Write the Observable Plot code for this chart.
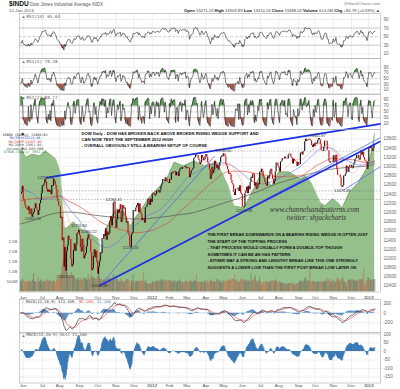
<!DOCTYPE html>
<html><head><meta charset="utf-8">
<script src="https://cdn.jsdelivr.net/npm/d3@7"></script>
<script src="https://cdn.jsdelivr.net/npm/@observablehq/plot@0.6"></script>
<style>
html,body{margin:0;padding:0;background:#fff;}
#chart{position:relative;width:400px;height:389px;overflow:hidden;background:#fff;}
#chart svg{position:absolute;left:0;}
</style></head><body><div id="chart"></div>
<script>
// ---------------- DATA ----------------
const monthKeys = ["2011-05","2011-06","2011-07","2011-08","2011-09","2011-10","2011-11","2011-12","2012-01","2012-02","2012-03","2012-04","2012-05","2012-06","2012-07","2012-08","2012-09","2012-10","2012-11","2012-12","2013-01"];
const monthLabels = ["","Jun","Jul","Aug","Sep","Oct","Nov","Dec","2012","Feb","Mar","Apr","May","Jun","Jul","Aug","Sep","Oct","Nov","Dec","2013"];

// daily closes per month
const c2011_05 = [12403,12442,12570];
const c2011_06 = [12290,12249,12151,12090,12071,12049,12124,11952,11953,12076,11897,11962,12004,12080,12190,12110,12050,11935,12044,12189,12261,12414];
const c2011_07 = [12583,12570,12626,12719,12657,12506,12447,12492,12437,12480,12385,12587,12572,12724,12681,12593,12501,12303,12240,12143];
const c2011_08 = [12132,11867,11896,11384,11445,10810,11240,10720,11143,11269,11483,11406,11410,10991,10818,10855,11177,11321,11150,11285,11539,11560,11614];
const c2011_09 = [11494,11240,11139,11415,11296,10992,11061,11106,11247,11433,11509,11401,11409,11125,10734,10771,11044,11191,11011,11154,10913];
const c2011_10 = [10655,10809,10940,11123,11103,11433,11416,11519,11478,11644,11397,11577,11505,11542,11809,11914,11707,11869,12209,12231,11955];
const c2011_11 = [11658,11836,12044,11983,12068,12170,11781,11894,12154,12079,12096,11906,11771,11796,11547,11494,11258,11232,11523,11556,12046];
const c2011_12 = [12020,12019,12098,12150,12196,11998,12184,12021,11955,11823,11869,11866,11766,12104,12108,12170,12294,12291,12151,12287,12218];
const c2012_01 = [12397,12418,12416,12360,12393,12462,12449,12471,12422,12482,12579,12624,12720,12709,12676,12757,12735,12660,12654,12633];
const c2012_02 = [12716,12705,12862,12845,12878,12884,12890,12801,12874,12878,12781,12904,12950,12966,12939,12985,12983,12982,13005,12952];
const c2012_03 = [12980,12978,12963,12759,12837,12908,12922,12960,13178,13194,13253,13233,13239,13170,13125,13046,13081,13242,13198,13126,13146,13212];
const c2012_04 = [13264,13200,13075,13060,12930,12716,12805,12987,12850,12921,13116,13033,12964,13029,12927,13002,13091,13205,13228,13214];
const c2012_05 = [13279,13269,13207,13038,13009,12932,12835,12855,12821,12695,12632,12599,12442,12369,12504,12503,12496,12530,12455,12581,12420,12393];
const c2012_06 = [12119,12101,12128,12415,12461,12554,12411,12574,12496,12652,12767,12742,12837,12824,12574,12641,12503,12535,12627,12602,12880];
const c2012_07 = [12871,12944,12897,12772,12736,12653,12605,12573,12777,12727,12806,12909,12943,12823,12721,12617,12676,12888,13076,13073,13009];
const c2012_08 = [12976,12879,13096,13118,13169,13176,13165,13208,13169,13172,13165,13250,13275,13272,13204,13173,13057,13158,13125,13103,13107,13001,13091];
const c2012_09 = [13036,13047,13292,13307,13254,13323,13333,13540,13593,13553,13565,13578,13597,13579,13559,13458,13414,13486,13437];
const c2012_10 = [13515,13482,13495,13575,13610,13584,13474,13345,13326,13329,13424,13552,13557,13549,13344,13346,13103,13077,13104,13107,13096];
const c2012_11 = [13233,13093,13112,13246,12933,12811,12815,12815,12756,12571,12542,12588,12796,12789,12837,13010,12967,12878,12985,13022,13026];
const c2012_12 = [12966,12952,13034,13074,13155,13170,13248,13245,13171,13135,13235,13351,13252,13312,13191,13139,13115,13096,12938,13104];
const c2013_01 = [13413,13391,13435,13384,13329,13390,13471,13488];

// daily volume per month (tens of millions)
const v2011_05 = [55,50,62];
const v2011_06 = [58,52,50,48,50,52,48,56,45,48,62,58,90,50,48,46,52,70,48,50,55,60];
const v2011_07 = [45,50,48,52,50,55,58,50,55,60,52,50,48,55,50,48,52,62,60,65];
const v2011_08 = [70,85,90,130,150,180,170,140,115,95,80,75,70,95,90,75,80,72,68,55,60,62,70];
const v2011_09 = [55,60,65,58,55,68,70,62,60,58,85,62,60,78,95,72,68,70,62,60,68];
const v2011_10 = [80,95,75,65,60,55,52,60,55,58,62,65,60,65,70,55,60,62,85,55,62];
const v2011_11 = [75,62,58,48,50,52,68,55,48,45,50,55,58,60,62,50,55,25,55,48,85];
const v2011_12 = [55,50,48,52,50,55,50,52,50,55,52,95,48,55,45,40,38,35,40,38,40];
const v2012_01 = [52,48,50,45,48,55,50,52,50,58,55,58,62,52,50,58,56,50,55,58];
const v2012_02 = [55,50,55,45,50,52,55,48,45,50,55,52,60,50,48,45,42,48,50,58];
const v2012_03 = [50,45,48,60,52,50,45,48,58,55,52,85,50,48,50,48,45,50,48,45,46,55];
const v2012_04 = [45,48,55,42,50,62,55,50,52,48,50,45,55,65,58,50,55,48,45,48];
const v2012_05 = [55,48,52,55,50,58,60,52,55,58,62,60,62,82,55,52,58,48,42,50,58,62];
const v2012_06 = [65,58,52,60,55,50,58,55,52,50,90,52,55,58,68,80,52,50,48,55,72];
const v2012_07 = [50,30,48,45,42,48,50,52,45,42,48,50,52,55,55,50,48,55,60,45,50];
const v2012_08 = [48,50,45,40,42,40,38,40,36,38,35,40,42,38,40,40,42,38,32,35,36,38,40];
const v2012_09 = [45,48,55,52,48,50,52,65,70,55,50,52,55,110,48,50,52,48,50];
const v2012_10 = [50,48,45,48,52,45,50,52,48,50,45,52,50,55,65,50,62,55,50,45,60];
const v2012_11 = [55,50,45,52,68,62,60,48,55,62,65,70,52,48,45,25,52,55,58,56,62];
const v2012_12 = [55,58,60,55,52,50,55,58,52,60,58,62,58,60,115,30,45,52,58,70];
const v2013_01 = [68,60,58,55,58,56,62,61];

// moving averages
const maDates = ["2011-05-26","2011-06-15","2011-07-01","2011-07-15","2011-08-01","2011-08-15","2011-09-01","2011-09-15","2011-10-03","2011-10-17","2011-11-01","2011-11-15","2011-12-01","2011-12-15","2012-01-03","2012-01-17","2012-02-01","2012-02-15","2012-03-01","2012-03-15","2012-04-02","2012-04-16","2012-05-01","2012-05-15","2012-06-01","2012-06-15","2012-07-02","2012-07-16","2012-08-01","2012-08-15","2012-09-04","2012-09-17","2012-10-01","2012-10-15","2012-11-01","2012-11-15","2012-12-03","2012-12-17","2013-01-02","2013-01-11"];
const ma50 = [12530,12420,12280,12290,12360,12100,11820,11550,11300,11230,11330,11500,11700,11860,11990,12080,12280,12520,12750,12870,13000,13050,13080,13020,12850,12700,12620,12660,12740,12840,13000,13140,13300,13420,13380,13200,13080,13030,13070,13130];
const ma100 = [12250,12300,12310,12330,12360,12250,12130,12000,11820,11720,11660,11610,11560,11570,11620,11700,11800,11980,12150,12330,12550,12700,12850,12900,12900,12870,12830,12800,12780,12790,12800,12880,13000,13100,13180,13160,13150,13110,13080,13107];
const ma200 = [11750,11820,11900,11960,12000,12010,11990,11960,11930,11910,11890,11870,11860,11860,11880,11900,11920,11950,11970,12010,12080,12140,12200,12260,12330,12400,12480,12560,12640,12700,12780,12830,12870,12910,12950,12970,12990,13000,13020,13061];

// $TRAN overlay (green area), read on the price axis
const ovDates = ["2011-05-26","2011-06-06","2011-06-15","2011-06-27","2011-07-07","2011-07-14","2011-07-25","2011-08-02","2011-08-08","2011-08-11","2011-08-23","2011-09-02","2011-09-14","2011-09-23","2011-10-03","2011-10-06","2011-10-14","2011-10-27","2011-11-03","2011-11-15","2011-11-25","2011-12-02","2011-12-15","2011-12-29","2012-01-13","2012-01-26","2012-02-09","2012-02-24","2012-03-13","2012-03-30","2012-04-20","2012-05-09","2012-05-18","2012-06-04","2012-06-20","2012-07-03","2012-07-20","2012-08-01","2012-08-17","2012-09-04","2012-09-14","2012-09-24","2012-10-02","2012-10-10","2012-10-18","2012-10-31","2012-11-09","2012-11-16","2012-11-27","2012-12-13","2012-12-31","2013-01-08","2013-01-11"];
const ovVals = [13380,13200,13270,13230,13330,13274,13165,12880,11700,11640,11794,11650,11576,11500,11424,10923,11600,11950,12077,12000,11700,11859,12100,12360,12550,12700,13100,13012,13121,13012,13100,12577,12142,12100,12512,12882,12577,12882,12882,12729,12795,12642,12425,12207,12142,12294,12207,12098,12425,12642,13012,13448,13730];

// price labels
const lblDates = ["2011-06-16","2011-07-07","2011-08-09","2011-08-31","2011-09-16","2011-10-04","2011-10-28","2011-11-25","2012-05-01","2012-06-04","2012-10-05","2012-11-16"];
const lblVals = [11862.53,12753.89,10604.07,11716.84,11580.22,10404.49,12284.31,11231.56,13338.66,12035.09,13661.87,12471.49];
const lblHigh = [false,true,false,true,true,false,true,false,true,false,true,false];

// trendlines
const thickFrom = ["2011-07-07","2011-10-04"], thickFromV = [12754,10404];
const thickTo = ["2013-01-21","2013-01-21"], thickToV = [13930,13552];
const thinFrom = ["2011-10-04","2012-06-04","2012-11-16"], thinFromV = [10404,12035,12471];
const thinTo = ["2012-04-16","2013-01-21","2013-01-21"], thinToV = [13230,13633,13000];
const levels = [12471,12284];
const levelHigh = [13338];

// axis ticks
const priceTicks = d3.range(10400, 13601, 200);
const volTicks = [2.5e9,2.0e9,1.5e9,1.0e9,0.5e9];
const volTickLabels = ["2.5B","2.0B","1.5B","1.0B","500M"];
const rsiTicks = [90,70,50,30,10];
const macdTicks = [200,0,-200];
const histTicks = [100,50,0,-50,-100,-150];

// texts
const noteTop = ["DOW Daily - DOW HAS BROKEN BACK ABOVE BROKEN RISING WEDGE SUPPORT AND","CAN NOW TEST THE SEPTEMBER 2012 HIGH","- OVERALL OBVIOUSLY STILL A BEARISH SETUP OF COURSE"];
const noteBottom = ["THE FIRST BREAK DOWNWARDS ON A BEARISH RISING WEDGE IS OFTEN JUST","THE START OF THE TOPPING PROCESS","- THAT PROCESS WOULD USUALLY FORM A DOUBLE-TOP THOUGH","SOMETIMES IT CAN BE AN H&S PATTERN","- EITHER WAY A STRONG AND LENGTHY BREAK LIKE THIS ONE STRONGLY","SUGGESTS A LOWER LOW THAN THE FIRST POST BREAK LOW LATER ON"];
const watermark = ["www.channelsandpatterns.com","twitter: shjackcharts"];
const legendLines = ["$INDU (Daily) 13488.02","MA(50) 13214.46","MA(100) 13107.46","MA(200) 13061.04","Volume 614,049,600","$TRAN (Daily) 5651.29"];

// ---------------- BUILD ----------------
const closesByMonth = [c2011_05,c2011_06,c2011_07,c2011_08,c2011_09,c2011_10,c2011_11,c2011_12,c2012_01,c2012_02,c2012_03,c2012_04,c2012_05,c2012_06,c2012_07,c2012_08,c2012_09,c2012_10,c2012_11,c2012_12,c2013_01];
const volsByMonth = [v2011_05,v2011_06,v2011_07,v2011_08,v2011_09,v2011_10,v2011_11,v2011_12,v2012_01,v2012_02,v2012_03,v2012_04,v2012_05,v2012_06,v2012_07,v2012_08,v2012_09,v2012_10,v2012_11,v2012_12,v2013_01];
const closes = closesByMonth.flat();
const vols = volsByMonth.flat().map(v => v * 1e7);
const monthStart = []; {let a = 0; closesByMonth.forEach(m => {monthStart.push(a); a += m.length;});}
function idxOf(s) {
  const m = monthKeys.indexOf(s.slice(0,7)), day = +s.slice(8,10);
  if (m === 0) return Math.max(0, day - 26) * 0.6;
  const y = +s.slice(0,4), mo = +s.slice(5,7);
  const dim = new Date(y, mo, 0).getDate();
  const cnt = m === monthKeys.length - 1 ? 21 : closesByMonth[m].length;
  return monthStart[m] + (day - 1) / dim * cnt;
}
const bars = closes.map((c, i) => ({i, c, p: i ? closes[i-1] : c, v: vols[i], up: i ? c >= closes[i-1] : true}));
// Wilder RSI, seeded with the average gain/loss of the first n changes
function rsi(arr, n) {
  let sg = 0, sl = 0;
  for (let i = 1; i <= n; i++) { const ch = arr[i] - arr[i-1]; sg += Math.max(ch, 0); sl += Math.max(-ch, 0); }
  let ag = sg / n, al = sl / n; const out = [];
  for (let i = 1; i < arr.length; i++) {
    const ch = arr[i] - arr[i-1];
    ag = (ag * (n - 1) + Math.max(ch, 0)) / n; al = (al * (n - 1) + Math.max(-ch, 0)) / n;
    out[i] = al === 0 ? 100 : 100 - 100 / (1 + ag / al);
  }
  out[0] = out[1];
  return out.map((r, i) => ({i, r}));
}
function ema(arr, n) { const k = 2 / (n + 1); let e = arr[0]; return arr.map(v => (e = e + k * (v - e))); }
const e12 = ema(closes, 12), e26 = ema(closes, 26);
const macdV = closes.map((c, i) => e12[i] - e26[i]);
const sig = ema(macdV, 9);
const macd = macdV.map((m, i) => ({i, m, s: sig[i], h: m - sig[i]}));
const maRows = maDates.map((d, k) => ({i: idxOf(d), a: ma50[k], b: ma100[k], c: ma200[k]}));
const ov = ovDates.map((d, k) => ({i: idxOf(d), v: ovVals[k]}));
const lbl = lblDates.map((d, k) => ({i: idxOf(d), v: lblVals[k], t: lblVals[k].toFixed(2), hi: lblHigh[k]}));
const thick = thickFrom.map((d, k) => ({x1: idxOf(d), y1: thickFromV[k], x2: idxOf(thickTo[k]), y2: thickToV[k]}));
const thin = thinFrom.map((d, k) => ({x1: idxOf(d), y1: thinFromV[k], x2: idxOf(thinTo[k]), y2: thinToV[k]}));
const monthTicks = monthStart.map((s, k) => ({i: s, t: monthLabels[k], bold: monthLabels[k].length === 4})).slice(1);

// ---------------- DRAW ----------------
const SANS = "'Liberation Sans', Arial, sans-serif";
const MONO = "'DejaVu Sans Mono', monospace";
const chart = document.getElementById("chart");
const X = {type: "linear", domain: [-1.27, 415.5], range: [19, 380], axis: null};
function base(h) {
  return {width: 400, height: h, marginLeft: 19, marginRight: 20, marginTop: 0, marginBottom: 0,
    style: {background: "transparent", overflow: "visible", fontFamily: SANS}};
}
function place(svg, top) { svg.style.position = "absolute"; svg.style.left = "0px"; svg.style.top = top + "px"; chart.appendChild(svg); return svg; }
const grid = Plot.ruleX(monthTicks, {x: "i", stroke: "#e4e4e4", strokeWidth: 0.6});
const rightTicks = (ticks, fmt) => Plot.text(ticks, {y: d => d, text: fmt || (d => String(d)), frameAnchor: "right", dx: 3, textAnchor: "start", fontSize: 4.6, fill: "#666"});

// header
const hdr = d3.select(chart).append("svg").attr("width", 400).attr("height", 13).style("top", "0px").style("font-family", SANS);
hdr.append("text").attr("x", 9).attr("y", 6).attr("font-size", 6.6).attr("font-weight", "bold").attr("fill", "#111").text("$INDU");
hdr.append("text").attr("x", 30).attr("y", 5.6).attr("font-size", 4.6).attr("fill", "#555").text("Dow Jones Industrial Average INDX");
hdr.append("text").attr("x", 9).attr("y", 11.5).attr("font-size", 4.4).attr("fill", "#555").text("12-Jan-2013");
hdr.append("text").attr("x", 380).attr("y", 5).attr("font-size", 4.2).attr("fill", "#777").attr("text-anchor", "end").text("@StockCharts.com");
const ohlc = hdr.append("text").attr("x", 380).attr("y", 11.5).attr("font-size", 4.2).attr("fill", "#444").attr("text-anchor", "end");
[["Open ", "13471.23 "], ["High ", "13503.89 "], ["Low ", "13410.24 "], ["Close ", "13488.02 "], ["Volume ", "614.0M "], ["Chg ", "+84.79 (+0.63%) \u25B2"]].forEach(([k, v]) => {
  ohlc.append("tspan").attr("font-weight", "bold").attr("fill", "#111").text(k);
  ohlc.append("tspan").text(v);
});

// RSI panels
function rsiPanel(data, top, bottom, y0, y100, name) {
  return place(Plot.plot({...base(bottom - top), x: X, y: {domain: [0, 100], range: [y0 - top, y100 - top], axis: null},
    marks: [
      grid,
      Plot.ruleY([90, 10], {stroke: "#e4e4e4", strokeWidth: 0.6}),
      Plot.ruleY([70, 30], {stroke: "#a0a0a0", strokeWidth: 0.6}),
      Plot.ruleY([50], {stroke: "#a0a0a0", strokeWidth: 0.5, strokeDasharray: "3,1.5"}),
      Plot.areaY(data, {x: "i", y1: 70, y2: d => Math.max(d.r, 70), fill: "#5f9a57"}),
      Plot.areaY(data, {x: "i", y1: 30, y2: d => Math.min(d.r, 30), fill: "#a05a4e"}),
      Plot.line(data, {x: "i", y: "r", stroke: "#222", strokeWidth: 0.6}),
      rightTicks(rsiTicks),
      Plot.text(["\u25B2"], {frameAnchor: "top-left", dx: 2, dy: 1.2, lineAnchor: "top", fontSize: 4, fill: "#3a8a3a"}),
      Plot.text([name], {frameAnchor: "top-left", dx: 7, dy: 1, lineAnchor: "top", fontSize: 4.3, fill: "#555", fontFamily: MONO}),
      Plot.frame({stroke: "#aaa", strokeWidth: 0.6})
    ]}), top);
}
rsiPanel(rsi(closes, 14), 13, 58, 57.6, 14.7, "RSI(14) 65.63");
rsiPanel(rsi(closes, 5), 58, 93.5, 92.1, 63.9, "RSI(5) 70.28");
rsiPanel(rsi(closes, 2), 93.5, 128.5, 125.7, 96, "RSI(2) 88.77");

// main panel
const MT = 128.5, MB = 291;
const PY = {domain: [10400, 13600], range: [285 - MT, 138 - MT], axis: null};
place(Plot.plot({...base(MB - MT), x: X, y: PY, marks: [
  grid,
  Plot.ruleY(priceTicks, {stroke: "#e8e8e8", strokeWidth: 0.6}),
  Plot.areaY(ov, {x: "i", y1: 10269, y2: "v", fill: "#95bf8b"}),
  Plot.line(ov, {x: "i", y: "v", stroke: "#6fa765", strokeWidth: 0.6})
]}), MT);
place(Plot.plot({...base(MB - MT), x: X, y: {domain: [0, 5e8], range: [290.7 - MT, 280.7 - MT], axis: null}, marks: [
  Plot.ruleX(bars, {x: "i", y1: 0, y2: "v", stroke: d => d.up ? "#5b5b5b" : "#d2563f", strokeWidth: 0.9, strokeOpacity: 0.55}),
  Plot.text(volTicks, {y: d => d, text: (d, k) => volTickLabels[k], frameAnchor: "left", dx: -2, textAnchor: "end", fontSize: 4.4, fill: "#666"})
]}), MT);
const mainSvg = place(Plot.plot({...base(MB - MT), x: X, y: PY, marks: [
  Plot.ruleY(levels, {stroke: "#777", strokeWidth: 0.5, strokeDasharray: "1.5,1.5"}),
  Plot.ruleY(levelHigh, {x1: idxOf("2012-05-01"), x2: 415.5, stroke: "#777", strokeWidth: 0.5, strokeDasharray: "1.5,1.5"}),
  Plot.line(maRows, {x: "i", y: "c", stroke: "#555", strokeWidth: 0.7, curve: "monotone-x"}),
  Plot.line(maRows, {x: "i", y: "b", stroke: "#e23a2e", strokeWidth: 0.6, curve: "monotone-x"}),
  Plot.line(maRows, {x: "i", y: "a", stroke: "#6272d8", strokeWidth: 0.6, curve: "monotone-x"}),
  Plot.line(bars, Plot.windowY({k: 20, anchor: "end", reduce: "mean"}, {x: "i", y: "c", stroke: "#f19a94", strokeWidth: 0.5})),
  Plot.ruleX(bars, {x: "i", y1: "p", y2: "c", stroke: d => d.up ? "#111" : "#d40000", strokeWidth: 1.1}),
  Plot.link(thin, {x1: "x1", y1: "y1", x2: "x2", y2: "y2", stroke: "#4a5cf0", strokeWidth: 0.7}),
  Plot.link(thick, {x1: "x1", y1: "y1", x2: "x2", y2: "y2", stroke: "#1a2ee6", strokeWidth: 1.6}),
  Plot.text(lbl, {x: "i", y: "v", text: "t", ariaLabel: "pricelabel", fontSize: 3.9, fill: "#333"}),
  Plot.text([noteTop.join("\n")], {frameAnchor: "top-left", dx: 62, dy: 1.5, lineAnchor: "top", lineHeight: 1.42, fontSize: 4.2, fontWeight: "bold", fill: "#111"}),
  Plot.text([noteBottom.join("\n")], {frameAnchor: "top-left", dx: 188, dy: 102, lineAnchor: "top", lineHeight: 1.6, fontSize: 4.1, fontWeight: "bold", fill: "#111"}),
  Plot.text([watermark[0]], {frameAnchor: "top-left", dx: 295, dy: 77.5, textAnchor: "middle", fontSize: 7.2, fontStyle: "italic", fontFamily: "'Liberation Serif', serif", fill: "#333", letterSpacing: 0.9}),
  Plot.text([watermark[1]], {frameAnchor: "top-left", dx: 297, dy: 85.5, textAnchor: "middle", fontSize: 7.2, fontStyle: "italic", fontFamily: "'Liberation Serif', serif", fill: "#333", letterSpacing: 0.9}),
  rightTicks(priceTicks),
  Plot.frame({stroke: "#aaa", strokeWidth: 0.6})
]}), MT);
// label offsets & boxes
d3.select(mainSvg).selectAll('g[aria-label="pricelabel"] text').each(function (d, k) {
  const hi = lbl[k].hi;
  d3.select(this).attr("dy", hi ? -2.6 : 5.6);
  const b = this.getBBox();
  d3.select(this.parentNode).insert("rect", () => this).attr("x", b.x - 0.8).attr("y", b.y - 0.3).attr("width", b.width + 1.6).attr("height", b.height + 0.6)
    .attr("fill", "#fff").attr("stroke", "#999").attr("stroke-width", 0.4);
});
// legend (symbols drawn as shapes, labels as text)
const leg = d3.select(mainSvg).append("g").attr("font-family", MONO).attr("font-size", 3.4);
const legColors = ["#222", "#3848d0", "#d93a2e", "#555", "#555", "#3a8a3a"];
legendLines.forEach((t, k) => {
  const y = 6.5 + k * 3.5;
  if (k === 0) leg.append("rect").attr("x", 21.5).attr("y", y - 2.4).attr("width", 2.2).attr("height", 2.2).attr("fill", legColors[k]);
  else if (k < 4) leg.append("line").attr("x1", 21.3).attr("x2", 24).attr("y1", y - 1.2).attr("y2", y - 1.2).attr("stroke", legColors[k]).attr("stroke-width", 0.6);
  else leg.append("path").attr("d", `M21.4,${y - 0.1}L22.65,${y - 2.5}L23.9,${y - 0.1}Z`).attr("fill", legColors[k]);
  leg.append("text").attr("x", 25).attr("y", y).attr("fill", legColors[k]).text(t);
});

// MACD panel
const AT = 298.5, AB = 332;
place(Plot.plot({...base(AB - AT), x: X, y: {domain: [-200, 200], range: [321.7 - AT, 302.7 - AT], axis: null}, marks: [
  grid,
  Plot.ruleY(macdTicks, {stroke: "#e6e6e6", strokeWidth: 0.6}),
  Plot.areaY(macd, {x: "i", y: "h", fill: "#3f7fba", fillOpacity: 0.85}),
  Plot.line(macd, {x: "i", y: "s", stroke: "#e0393a", strokeWidth: 0.6}),
  Plot.line(macd, {x: "i", y: "m", stroke: "#111", strokeWidth: 0.6}),
  rightTicks(macdTicks),
  Plot.text(monthTicks, {x: "i", text: "t", frameAnchor: "top", dy: -4, fontSize: 4.4, fill: d => d.bold ? "#111" : "#555", fontWeight: d => d.bold ? "bold" : "normal"}),
  Plot.text(["\u2014 MACD(12,26,9) 113.339,"], {frameAnchor: "top-left", dx: 2, dy: 1, lineAnchor: "top", fontSize: 3.8, fill: "#333", fontFamily: MONO}),
  Plot.text(["92.180,"], {frameAnchor: "top-left", dx: 59.5, dy: 1, lineAnchor: "top", fontSize: 3.8, fill: "#e0393a", fontFamily: MONO}),
  Plot.text(["21.160"], {frameAnchor: "top-left", dx: 77.5, dy: 1, lineAnchor: "top", fontSize: 3.8, fill: "#3f7fba", fontFamily: MONO}),
  Plot.frame({stroke: "#aaa", strokeWidth: 0.6})
]}), AT);

// Histogram panel
const HT = 332, HB = 382.5;
place(Plot.plot({...base(HB - HT), x: X, y: {domain: [0, 100], range: [351 - HT, 334 - HT], axis: null}, marks: [
  grid,
  Plot.ruleY(histTicks, {stroke: "#e6e6e6", strokeWidth: 0.6}),
  Plot.areaY(macd, {x: "i", y: "h", fill: "#4a89c2"}),
  Plot.ruleX(macd, {x: "i", y1: 0, y2: "h", stroke: "#2f6ea8", strokeWidth: 0.5}),
  rightTicks(histTicks),
  Plot.text(monthTicks, {x: "i", text: "t", frameAnchor: "bottom", dy: 4, fontSize: 4.4, fill: d => d.bold ? "#111" : "#555", fontWeight: d => d.bold ? "bold" : "normal"}),
  Plot.text(["\u25B2"], {frameAnchor: "top-left", dx: 2, dy: 1.2, lineAnchor: "top", fontSize: 4, fill: "#3f7fba"}),
  Plot.text(["MACD(12,26,9) Hist 21.160"], {frameAnchor: "top-left", dx: 7, dy: 1, lineAnchor: "top", fontSize: 4, fill: "#555", fontFamily: MONO}),
  Plot.frame({stroke: "#aaa", strokeWidth: 0.6})
]}), HT);
</script></body></html>
